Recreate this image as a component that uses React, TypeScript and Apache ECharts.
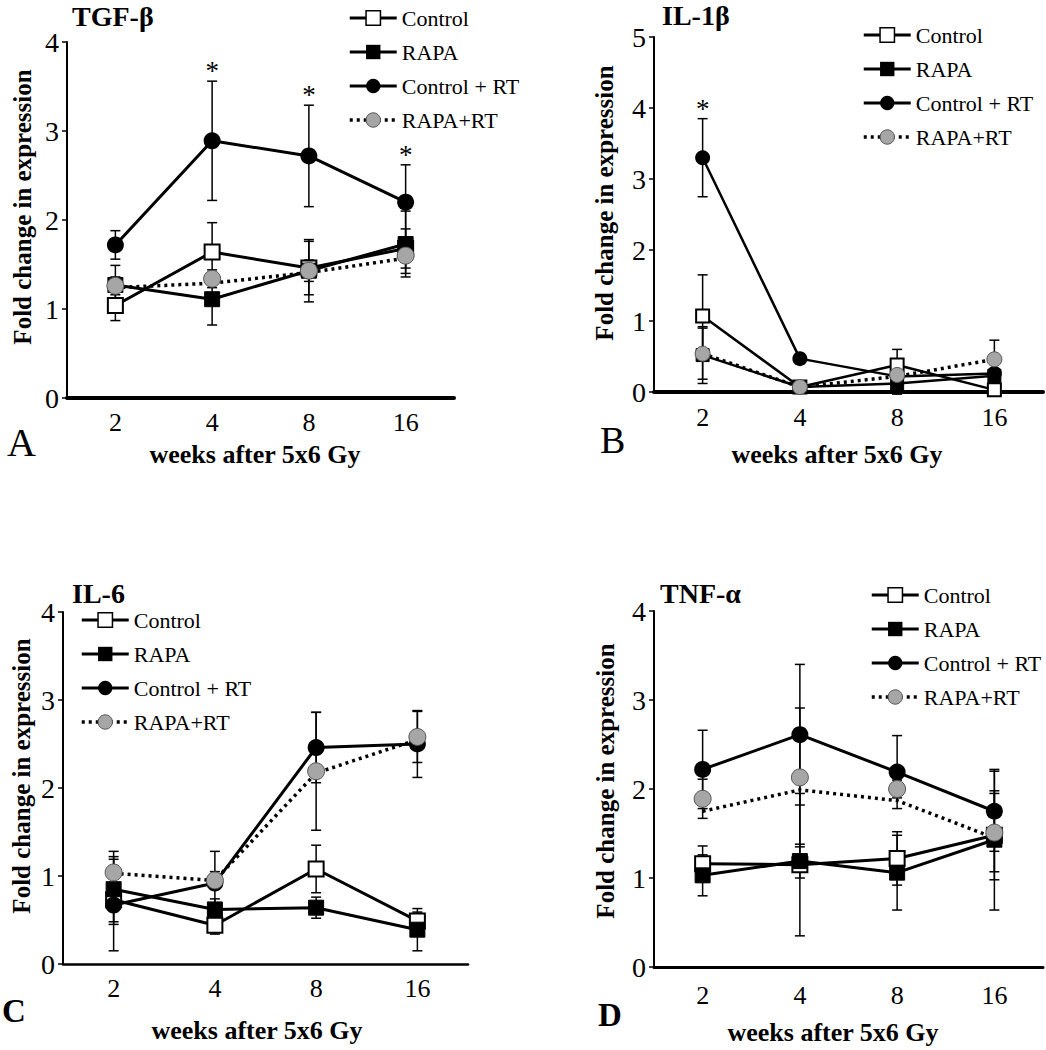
import React, { useEffect, useRef } from 'react';
import * as echarts from 'echarts';

const weeks = ['2', '4', '8', '16'];
const groupNames = ['Control', 'RAPA', 'Control + RT', 'RAPA+RT'];
const panelTitles = ['TGF-β', 'IL-1β', 'IL-6', 'TNF-α'];
const panelLetters = ['A', 'B', 'C', 'D'];
const yMaxValues = [4, 5, 4, 4];
const yAxisTitle = 'Fold change in expression';
const xAxisTitle = 'weeks after 5x6 Gy';

// A: TGF-β
const tgfControl = [1.04, 1.64, 1.46, 1.68];
const tgfControlErr = [0.17, 0.33, 0.3, 0.22];
const tgfRapa = [1.27, 1.11, 1.43, 1.73];
const tgfRapaErr = [0.22, 0.29, 0.35, 0.37];
const tgfControlRT = [1.72, 2.89, 2.72, 2.2];
const tgfControlRTErr = [0.16, 0.67, 0.57, 0.42];
const tgfRapaRT = [1.26, 1.34, 1.43, 1.6];
const tgfRapaRTErr = [0.1, 0.1, 0.12, 0.2];
const tgfRapaRTLine = [1.24, 1.29, 1.41, 1.57];
const tgfStars = [0, 1, 1, 1];

// B: IL-1β
const il1Control = [1.07, 0.07, 0.38, 0.03];
const il1ControlErr = [0.58, 0.05, 0.22, 0.08];
const il1Rapa = [0.52, 0.07, 0.12, 0.23];
const il1RapaErr = [0.4, 0.05, 0.15, 0.1];
const il1ControlRT = [3.3, 0.47, 0.22, 0.26];
const il1ControlRTErr = [0.55, 0.07, 0.05, 0.05];
const il1RapaRT = [0.54, 0.07, 0.24, 0.46];
const il1RapaRTErr = [0.36, 0.05, 0.06, 0.27];
const il1RapaRTLine = [0.54, 0.07, 0.22, 0.46];
const il1Stars = [1, 0, 0, 0];

// C: IL-6
const il6Control = [0.73, 0.44, 1.08, 0.49];
const il6ControlErr = [0.28, 0.1, 0.27, 0.1];
const il6Rapa = [0.85, 0.62, 0.64, 0.39];
const il6RapaErr = [0.37, 0.12, 0.12, 0.24];
const il6ControlRT = [0.67, 0.92, 2.46, 2.5];
const il6ControlRTErr = [0.52, 0.36, 0.4, 0.38];
const il6RapaRT = [1.04, 0.95, 2.19, 2.58];
const il6RapaRTErr = [0.24, 0.1, 0.67, 0.29];
const il6RapaRTLine = [1.03, 0.95, 2.17, 2.55];
const il6Stars = [0, 0, 0, 0];

// D: TNF-α
const tnfControl = [1.16, 1.15, 1.22, 1.48];
const tnfControlErr = [0.2, 0.8, 0.3, 0.5];
const tnfRapa = [1.03, 1.19, 1.06, 1.43];
const tnfRapaErr = [0.23, 0.19, 0.42, 0.79];
const tnfControlRT = [2.22, 2.61, 2.19, 1.75];
const tnfControlRTErr = [0.44, 0.79, 0.41, 0.45];
const tnfRapaRT = [1.89, 2.13, 2.0, 1.51];
const tnfRapaRTErr = [0.22, 0.78, 0.1, 0.44];
const tnfRapaRTLine = [1.75, 1.99, 1.87, 1.45];
const tnfStars = [0, 0, 0, 0];

const panelData = [
  { control: tgfControl, controlErr: tgfControlErr, rapa: tgfRapa, rapaErr: tgfRapaErr, controlRT: tgfControlRT, controlRTErr: tgfControlRTErr, rapaRT: tgfRapaRT, rapaRTErr: tgfRapaRTErr, rapaRTLine: tgfRapaRTLine, stars: tgfStars },
  { control: il1Control, controlErr: il1ControlErr, rapa: il1Rapa, rapaErr: il1RapaErr, controlRT: il1ControlRT, controlRTErr: il1ControlRTErr, rapaRT: il1RapaRT, rapaRTErr: il1RapaRTErr, rapaRTLine: il1RapaRTLine, stars: il1Stars },
  { control: il6Control, controlErr: il6ControlErr, rapa: il6Rapa, rapaErr: il6RapaErr, controlRT: il6ControlRT, controlRTErr: il6ControlRTErr, rapaRT: il6RapaRT, rapaRTErr: il6RapaRTErr, rapaRTLine: il6RapaRTLine, stars: il6Stars },
  { control: tnfControl, controlErr: tnfControlErr, rapa: tnfRapa, rapaErr: tnfRapaErr, controlRT: tnfControlRT, controlRTErr: tnfControlRTErr, rapaRT: tnfRapaRT, rapaRTErr: tnfRapaRTErr, rapaRTLine: tnfRapaRTLine, stars: tnfStars },
];

const FONT = "'Liberation Serif', 'Times New Roman', serif";
const GRAY = '#a6a6a6';
const DOT: number[] = [3, 4];

const layout = [
  { left: 67, top: 42, width: 387, height: 356, axisW: 4, lineW: 3, sym: 17, xMargin: 11, legLeft: 348, legTop: 7, title: [72, 16], yName: [22, 207], xName: [255, 454], letter: [7, 442, 40, 'normal'] },
  { left: 654, top: 37, width: 389, height: 355, axisW: 4, lineW: 2.5, sym: 15, xMargin: 12, legLeft: 862, legTop: 24, title: [662, 15], yName: [604, 203], xName: [837, 454], letter: [600, 440, 38, 'normal'] },
  { left: 63, top: 612, width: 405, height: 352, axisW: 2.5, lineW: 3, sym: 17, xMargin: 11, legLeft: 80, legTop: 609, title: [72, 593], yName: [21, 776], xName: [257, 1030], letter: [2, 1011, 33, 'bold'] },
  { left: 654, top: 611, width: 389, height: 356, axisW: 3, lineW: 3, sym: 17, xMargin: 15, legLeft: 870, legTop: 584, title: [660, 593], yName: [605, 781], xName: [833, 1032], letter: [598, 1015, 33, 'bold'] },
];

const errRenderItem = (params: any, api: any) => {
  const x = api.value(0);
  const lo = api.value(1);
  const hi = api.value(2);
  const star = api.value(3);
  const pLo = api.coord([x, lo]);
  const pHi = api.coord([x, hi]);
  const cap = 5;
  const st = { stroke: '#000', lineWidth: 1.5 };
  const children: any[] = [
    { type: 'line', shape: { x1: pLo[0], y1: pLo[1], x2: pHi[0], y2: pHi[1] }, style: st },
    { type: 'line', shape: { x1: pLo[0] - cap, y1: pLo[1], x2: pLo[0] + cap, y2: pLo[1] }, style: st },
    { type: 'line', shape: { x1: pHi[0] - cap, y1: pHi[1], x2: pHi[0] + cap, y2: pHi[1] }, style: st },
  ];
  if (star) {
    children.push({
      type: 'text',
      x: pHi[0],
      y: pHi[1] - 10,
      style: { text: '*', fill: '#000', fontSize: 27, fontFamily: FONT, align: 'center', verticalAlign: 'middle' },
    });
  }
  return { type: 'group', children };
};

function buildOption() {
  const grid: any[] = [];
  const xAxis: any[] = [];
  const yAxis: any[] = [];
  const series: any[] = [];
  const legend: any[] = [];
  const graphic: any[] = [];

  const legendText = { color: '#000', fontFamily: FONT, fontSize: 22, lineHeight: 22 };
  const legendData = [
    { name: groupNames[0], textStyle: legendText, itemStyle: { color: '#fff', borderColor: '#000', borderWidth: 1.5 }, lineStyle: { color: '#000', width: 3, type: 'solid' } },
    { name: groupNames[1], textStyle: legendText, itemStyle: { color: '#000', borderColor: '#000', borderWidth: 0 }, lineStyle: { color: '#000', width: 3, type: 'solid' } },
    { name: groupNames[2], textStyle: legendText, itemStyle: { color: '#000', borderColor: '#000', borderWidth: 0 }, lineStyle: { color: '#000', width: 3, type: 'solid' } },
    { name: groupNames[3], textStyle: legendText, itemStyle: { color: GRAY, borderColor: '#555', borderWidth: 1 }, lineStyle: { color: '#000', width: 3.5, type: DOT } },
  ];

  layout.forEach((L, i) => {
    const d = panelData[i];
    grid.push({ left: L.left, top: L.top, width: L.width, height: L.height, containLabel: false });
    xAxis.push({
      type: 'category',
      gridIndex: i,
      data: weeks,
      boundaryGap: true,
      axisLine: { show: true, lineStyle: { color: '#000', width: L.axisW } },
      axisTick: { show: false },
      splitLine: { show: false },
      axisLabel: { color: '#000', fontFamily: FONT, fontSize: 26, margin: L.xMargin },
    });
    yAxis.push({
      type: 'value',
      gridIndex: i,
      min: 0,
      max: yMaxValues[i],
      interval: 1,
      axisLine: { show: true, lineStyle: { color: '#000', width: 2 } },
      axisTick: { show: true, length: 5, inside: false, lineStyle: { color: '#000', width: 1.5 } },
      splitLine: { show: false },
      axisLabel: { color: '#000', fontFamily: FONT, fontSize: 28, margin: 8 },
    });

    const errRows: any[] = [];
    const groups = [
      { v: d.control, e: d.controlErr, s: null as any },
      { v: d.rapa, e: d.rapaErr, s: null as any },
      { v: d.controlRT, e: d.controlRTErr, s: d.stars },
      { v: d.rapaRT, e: d.rapaRTErr, s: null as any },
    ];
    groups.forEach((g) => {
      g.v.forEach((val: number, k: number) => {
        errRows.push([k, val - g.e[k], val + g.e[k], g.s ? g.s[k] : 0]);
      });
    });

    series.push({
      type: 'custom',
      name: 'errors' + i,
      xAxisIndex: i,
      yAxisIndex: i,
      z: 1,
      silent: true,
      encode: { x: 0, y: [1, 2] },
      data: errRows,
      renderItem: errRenderItem,
    });

    series.push({
      type: 'line', name: groupNames[0], xAxisIndex: i, yAxisIndex: i, z: 3,
      data: d.control, symbol: 'rect', symbolSize: L.sym - 2,
      itemStyle: { color: '#fff', borderColor: '#000', borderWidth: 2 },
      lineStyle: { color: '#000', width: L.lineW },
      emphasis: { disabled: true },
    });
    series.push({
      type: 'line', name: groupNames[1], xAxisIndex: i, yAxisIndex: i, z: 3,
      data: d.rapa, symbol: 'rect', symbolSize: L.sym - 2,
      itemStyle: { color: '#000', borderColor: '#000', borderWidth: 1 },
      lineStyle: { color: '#000', width: L.lineW },
      emphasis: { disabled: true },
    });
    series.push({
      type: 'line', name: groupNames[2], xAxisIndex: i, yAxisIndex: i, z: 4,
      data: d.controlRT, symbol: 'circle', symbolSize: L.sym,
      itemStyle: { color: '#000' },
      lineStyle: { color: '#000', width: L.lineW },
      emphasis: { disabled: true },
    });
    series.push({
      type: 'line', name: groupNames[3], xAxisIndex: i, yAxisIndex: i, z: 4,
      data: d.rapaRTLine, symbol: 'none',
      itemStyle: { color: GRAY },
      lineStyle: { color: '#000', width: 3.5, type: DOT },
      emphasis: { disabled: true },
    });
    series.push({
      type: 'scatter', name: 'RAPA+RT points ' + i, xAxisIndex: i, yAxisIndex: i, z: 5,
      data: d.rapaRT, symbol: 'circle', symbolSize: L.sym,
      itemStyle: { color: GRAY, borderColor: '#555', borderWidth: 1, opacity: 1 },
      emphasis: { disabled: true },
    });

    legend.push({
      orient: 'vertical',
      left: L.legLeft,
      top: L.legTop,
      padding: 0,
      itemWidth: 47,
      itemHeight: 18,
      itemGap: 12,
      selectedMode: false,
      textStyle: legendText,
      data: legendData,
    });

    graphic.push({
      type: 'text', x: L.title[0], y: L.title[1],
      style: { text: panelTitles[i], fill: '#000', fontSize: 28, fontWeight: 'bold', fontFamily: FONT, align: 'left', verticalAlign: 'middle' },
    });
    graphic.push({
      type: 'text', x: L.yName[0], y: L.yName[1], rotation: Math.PI / 2,
      style: { text: yAxisTitle, fill: '#000', fontSize: 25, fontWeight: 'bold', fontFamily: FONT, align: 'center', verticalAlign: 'middle' },
    });
    graphic.push({
      type: 'text', x: L.xName[0], y: L.xName[1],
      style: { text: xAxisTitle, fill: '#000', fontSize: 26, fontWeight: 'bold', fontFamily: FONT, align: 'center', verticalAlign: 'middle' },
    });
    graphic.push({
      type: 'text', x: L.letter[0] as number, y: L.letter[1] as number,
      style: { text: panelLetters[i], fill: '#000', fontSize: L.letter[2] as number, fontWeight: L.letter[3] as string, fontFamily: FONT, align: 'left', verticalAlign: 'middle' },
    });
  });

  return {
    animation: false,
    backgroundColor: '#fff',
    textStyle: { fontFamily: FONT },
    grid,
    xAxis,
    yAxis,
    legend,
    series,
    graphic,
  };
}

export default function App() {
  const ref = useRef<HTMLDivElement>(null);
  useEffect(() => {
    if (!ref.current) return;
    const chart = echarts.init(ref.current, undefined, { renderer: 'svg' });
    chart.setOption(buildOption() as any);
    return () => chart.dispose();
  }, []);
  return (
    <div
      ref={ref}
      style={{ position: 'absolute', left: 0, top: 0, width: 1046, height: 1050, background: '#fff' }}
    />
  );
}
